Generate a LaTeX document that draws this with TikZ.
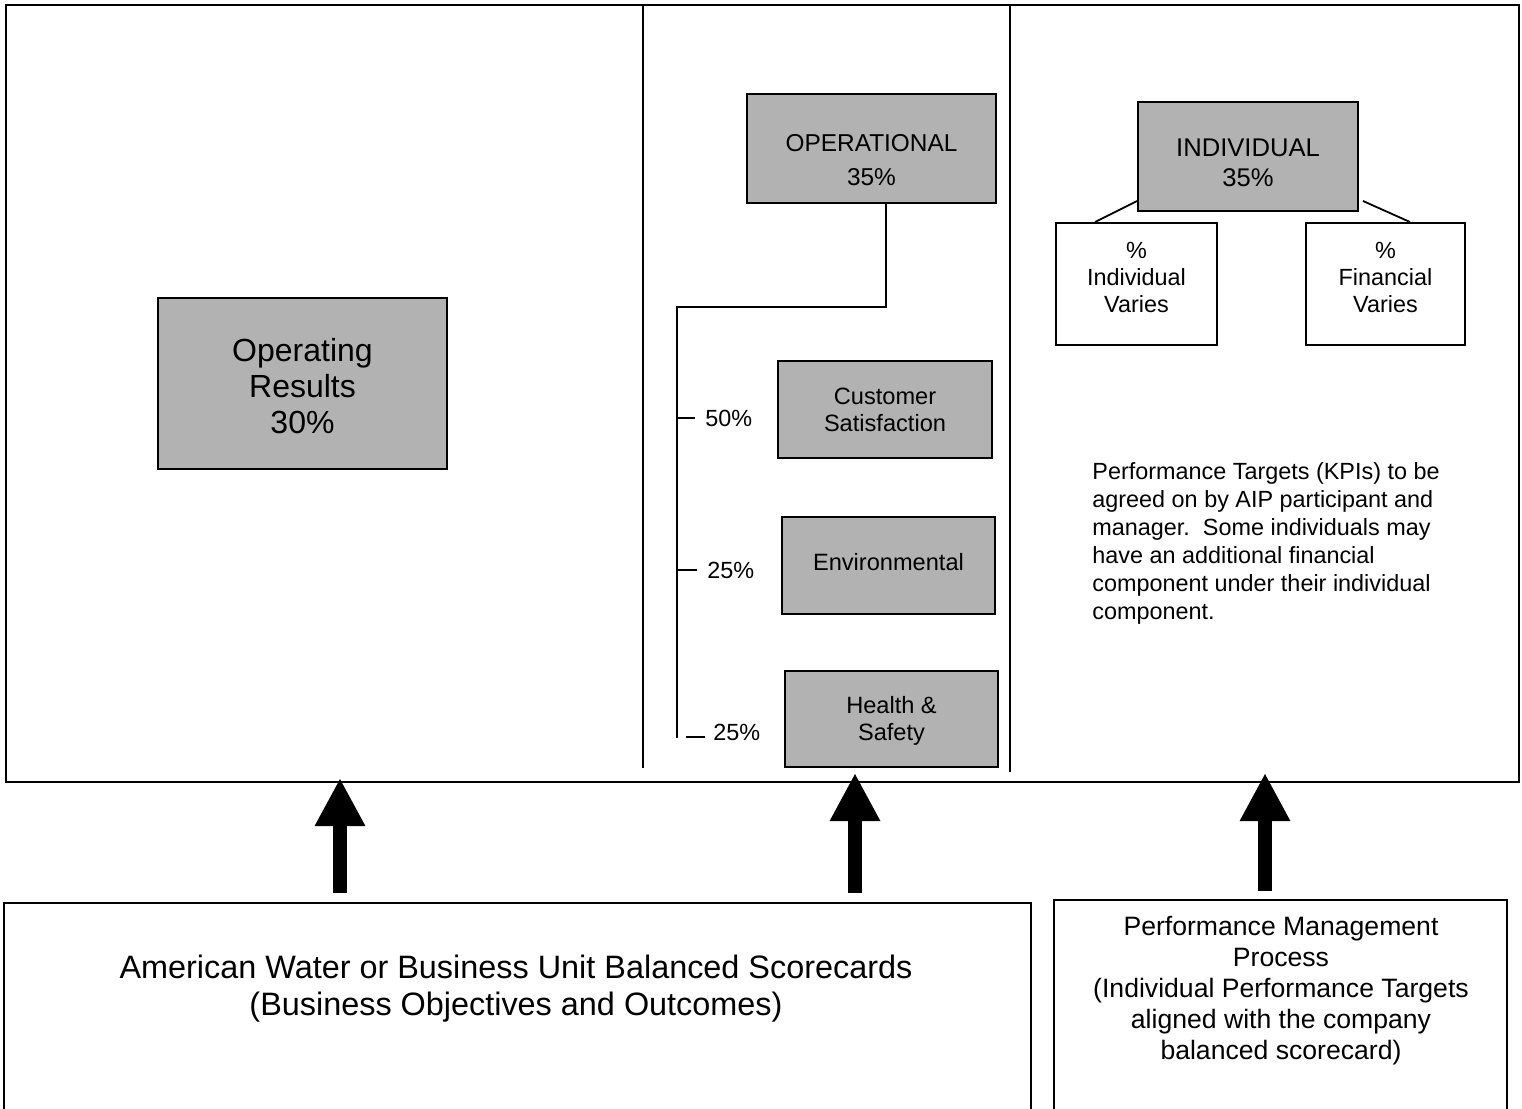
\documentclass[tikz,border=0pt]{standalone}
\usepackage{fontspec}
\setmainfont{Liberation Sans}
\usetikzlibrary{arrows.meta}
\tikzset{
  graybox/.style={draw=black, line width=1pt, fill=black!30, align=center, inner sep=0pt},
  whitebox/.style={draw=black, line width=1pt, fill=white, align=center, inner sep=0pt},
  boxtext/.style={align=center, inner sep=0pt},
  frameline/.style={line width=1.4pt},
  thin/.style={line width=0.9pt},
  bigarrow/.style={line width=7pt, -{Triangle[width=23.5pt,length=24pt]}},
  lbl/.style={inner sep=0pt, font=\fontsize{11.7}{14}\selectfont}
}
\begin{document}
\begin{tikzpicture}[x=0.5pt,y=-0.5pt]
\useasboundingbox (0,0) rectangle (1522,1109);
\clip (0,0) rectangle (1522,1109);
\fill[white] (0,0) rectangle (1522,1109);
% outer frame
\draw[frameline] (6,5) rectangle (1519,782);
\draw[frameline] (643,5) -- (643,768);
\draw[frameline] (1010,5) -- (1010,772);
% left column
\node[graybox, minimum width=144.5pt, minimum height=85.5pt] (opres) at (302.5,383.5) {};
\node[boxtext, font=\fontsize{16}{18}\selectfont] (oprestxt) at (302.5,386) {Operating\\Results\\30\%};
% middle column
\node[graybox, minimum width=124.5pt, minimum height=54.5pt] (oper) at (871.5,148.5) {};
\node[boxtext, font=\fontsize{12.2}{17}\selectfont] (opertxt) at (871.5,160) {OPERATIONAL\\35\%};
\node[graybox, minimum width=107pt, minimum height=48.5pt,
      font=\fontsize{11.8}{13.5}\selectfont] (cust) at (885,409.5) {Customer\\Satisfaction};
\node[graybox, minimum width=106.5pt, minimum height=48.5pt] (env) at (888.5,565.5) {};
\node[boxtext, font=\fontsize{11.8}{13.5}\selectfont] (envtxt) at (888.5,562) {Environmental};
\node[graybox, minimum width=106.5pt, minimum height=48pt] (hs) at (891.5,719) {};
\node[boxtext, font=\fontsize{11.8}{13.5}\selectfont] (hstxt) at (891.5,721) {Health \&\\Safety};
\coordinate (bartop) at (677,307);
\coordinate (barbot) at (677,738);
\draw[thin] ([xshift=7.25pt]oper.south) |- (bartop) -- (barbot);
\node[lbl, anchor=west] (p1) at (705,418) {50\%};
\node[lbl, anchor=west] (p2) at (707,570) {25\%};
\node[lbl, anchor=west] (p3) at (713,732) {25\%};
\draw[thin] (677,418) -- ([xshift=-5pt]p1.west);
\draw[thin] (677,570) -- ([xshift=-5pt]p2.west);
\draw[thin] (686,737) -- ([xshift=-4pt,yshift=-2.5pt]p3.west);
% right column
\node[graybox, minimum width=110pt, minimum height=54.5pt] (indiv) at (1248,156.5) {};
\node[boxtext, font=\fontsize{12.8}{15}\selectfont] (indivtxt) at (1248,163) {INDIVIDUAL\\35\%};
\node[whitebox, minimum width=80.5pt, minimum height=61pt] (ivar) at (1136.5,284) {};
\node[boxtext, font=\fontsize{11.7}{13.5}\selectfont] (ivartxt) at (1136.5,277) {\%\\Individual\\Varies};
\node[whitebox, minimum width=79.5pt, minimum height=61pt] (fvar) at (1385.5,284) {};
\node[boxtext, font=\fontsize{11.7}{13.5}\selectfont] (fvartxt) at (1385.5,277) {\%\\Financial\\Varies};
\draw[thin] ([yshift=5.5pt]indiv.south west) -- ([xshift=-20.75pt]ivar.north);
\draw[thin] ([xshift=2pt,yshift=5.5pt]indiv.south east) -- ([xshift=12.25pt]fvar.north);
\node[lbl, anchor=north west, align=left] (kpi) at (1092,462)
  {Performance Targets (KPIs) to be\\agreed on by AIP participant and\\manager.\ \ Some individuals may\\have an additional financial\\component under their individual\\component.};
% bottom boxes
\node[draw, line width=1.2pt, minimum width=513.5pt, minimum height=120pt, anchor=north west, inner sep=0pt] (bsc) at (3,902) {};
\node[draw, line width=1.2pt, minimum width=226.5pt, minimum height=120pt, anchor=north west, inner sep=0pt] (pmp) at (1053,899) {};
\node[boxtext, font=\fontsize{16.2}{18.5}\selectfont] (bsctxt) at (516,989)
  {American Water or Business Unit Balanced Scorecards\\(Business Objectives and Outcomes)};
\node[boxtext, font=\fontsize{13.3}{15.5}\selectfont] (pmptxt) at (1281,991)
  {Performance Management\\Process\\(Individual Performance Targets\\aligned with the company\\balanced scorecard)};
% arrows
\coordinate (a1s) at (340,893); \coordinate (a1e) at (340,778);
\coordinate (a2s) at (855,893); \coordinate (a2e) at (855,773);
\coordinate (a3s) at (1265,891); \coordinate (a3e) at (1265,773);
\draw[bigarrow] (a1s) -- (a1e);
\draw[bigarrow] (a2s) -- (a2e);
\draw[bigarrow] (a3s) -- (a3e);
\end{tikzpicture}
\end{document}
